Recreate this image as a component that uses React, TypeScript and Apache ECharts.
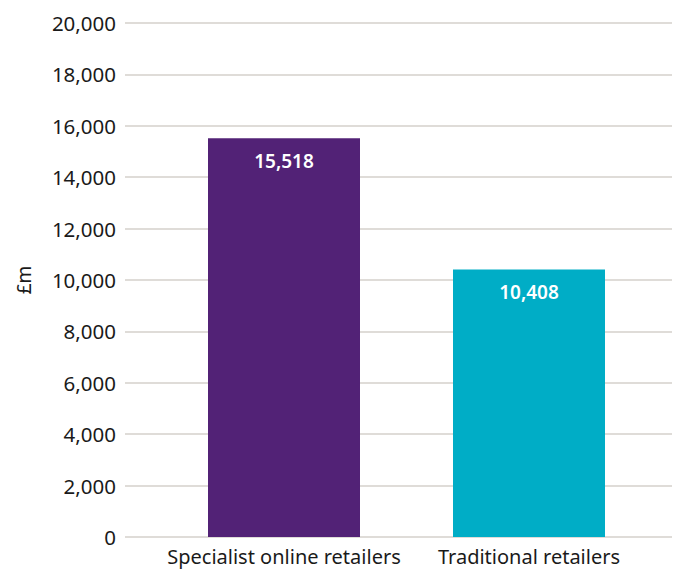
import React, { useEffect, useRef } from "react";
import * as echarts from "echarts";

const categories = ["Specialist online retailers", "Traditional retailers"];
const values = [15518, 10408];
const barColors = ["#522276", "#00adc6"];
const yTicks = [0, 2000, 4000, 6000, 8000, 10000, 12000, 14000, 16000, 18000, 20000];

const FONT = "'Noto Sans', sans-serif";
const fmt = (v: number) => v.toLocaleString("en-GB");

export default function App() {
  const ref = useRef<HTMLDivElement>(null);
  useEffect(() => {
    if (!ref.current) return;
    const chart = echarts.init(ref.current, null, { renderer: "svg" });
    const yMin = yTicks[0];
    const yMax = yTicks[yTicks.length - 1];
    const interval = yTicks[1] - yTicks[0];
    chart.setOption({
      animation: false,
      backgroundColor: "#ffffff",
      textStyle: { fontFamily: FONT },
      grid: [
        { left: 125, right: 11, top: 23, bottom: 32 },
        { left: 161.5, right: 31.5, top: 23, bottom: 32 },
      ],
      xAxis: [
        { type: "category", gridIndex: 0, data: categories, show: false },
        {
          type: "category",
          gridIndex: 1,
          data: categories,
          axisLine: { show: false },
          axisTick: { show: false },
          axisLabel: {
            color: "#1a1a1a",
            fontSize: 20,
            fontFamily: FONT,
            margin: 9,
            interval: 0,
            hideOverlap: false,
          },
        },
      ],
      yAxis: [
        {
          type: "value",
          gridIndex: 0,
          min: yMin,
          max: yMax,
          interval,
          name: "£m",
          nameLocation: "middle",
          nameGap: 92,
          nameTextStyle: { color: "#1a1a1a", fontSize: 19, fontFamily: FONT },
          axisLine: { show: false },
          axisTick: { show: false },
          axisLabel: {
            color: "#1a1a1a",
            fontSize: 20.5,
            fontFamily: FONT,
            margin: 9,
            formatter: (v: number) => fmt(v),
          },
          splitLine: { show: true, lineStyle: { color: "#dfdcd8", width: 2 } },
        },
        {
          type: "value",
          gridIndex: 1,
          min: yMin,
          max: yMax,
          interval,
          show: false,
          splitLine: { show: false },
        },
      ],
      series: [
        {
          type: "bar",
          xAxisIndex: 1,
          yAxisIndex: 1,
          barWidth: 152,
          data: values.map((v, i) => ({ value: v, itemStyle: { color: barColors[i] } })),
          label: {
            show: true,
            position: "insideTop",
            distance: 13,
            color: "#ffffff",
            fontSize: 19,
            fontWeight: 600,
            fontFamily: FONT,
            formatter: (p: any) => fmt(p.value),
          },
        },
      ],
    });
    return () => chart.dispose();
  }, []);
  return (
    <div
      ref={ref}
      style={{ position: "fixed", left: 0, top: 0, width: 683, height: 569 }}
    />
  );
}
